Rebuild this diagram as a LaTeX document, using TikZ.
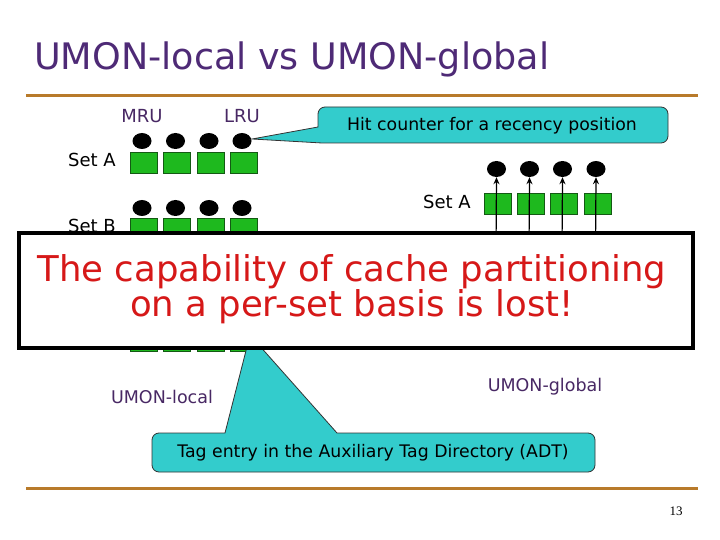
\documentclass[tikz,border=0pt]{standalone}
\usepackage{fontspec}
\setmainfont{DejaVu Sans}
\newfontfamily\serifnum{Liberation Serif}
\usetikzlibrary{arrows.meta,shapes.geometric}
\definecolor{titlepurple}{RGB}{78,42,118}
\definecolor{lblpurple}{RGB}{72,40,100}
\definecolor{rulebrown}{RGB}{184,122,42}
\definecolor{waygreen}{RGB}{30,185,30}
\definecolor{wayedge}{RGB}{20,90,20}
\definecolor{callcyan}{RGB}{51,204,204}
\definecolor{msgred}{RGB}{214,24,24}
\tikzset{
  way/.style={draw=wayedge, line width=0.8pt, fill=waygreen, minimum width=27pt, minimum height=21pt, inner sep=0pt},
  ctr/.style={fill=black, ellipse, inner sep=0pt, minimum width=19pt, minimum height=16pt},
  lbl/.style={font=\fontsize{17.5}{20}\selectfont, text=lblpurple, inner sep=0pt},
  setlbl/.style={font=\fontsize{18}{20}\selectfont, text=black, inner sep=0pt, anchor=base west},
  calltext/.style={font=\fontsize{17.3}{20}\selectfont, inner sep=0pt},
  callout/.style={draw=black!80, line width=0.8pt, fill=callcyan},
  hrule/.style={draw=rulebrown, line width=3pt},
  upar/.style={draw=black, line width=1.2pt, -{Stealth[length=7pt,width=6pt]}},
}
\begin{document}
\begin{tikzpicture}[x=1pt,y=-1pt]
\useasboundingbox[fill=white] (0,0) rectangle (720,540);
% title and rules
\node[anchor=west, text=titlepurple, font=\fontsize{36.5}{40}\selectfont, inner sep=0pt] (title) at (34,59) {UMON-local vs UMON-global};
\draw[hrule] (26,96) -- (698,96);
\draw[hrule] (26,488) -- (698,488);
% left: labels
\node[lbl, font=\fontsize{18}{20}\selectfont] (mru) at (142,116) {MRU};
\node[lbl, font=\fontsize{18}{20}\selectfont] (lru) at (242,116) {LRU};
\node[setlbl] (setA) at (68,167) {Set A};
\node[setlbl] (setB) at (68,233) {Set B};
% left: set A, set B, hidden set
\foreach \i/\x in {1/143.5,2/177,3/210.5,4/243.5}{
  \node[way] (a\i) at (\x,163) {};
  \node[ctr] (ac\i) at (\x-1.5,141) {};
  \node[way] (b\i) at (\x,229) {};
  \node[ctr] (bc\i) at (\x-1.5,208) {};
  \node[way] (c\i) at (\x,341) {};
}
% right: set A
\node[setlbl] (setAr) at (423,208) {Set A};
\foreach \i/\x in {1/498,2/531,3/564,4/597.5}{
  \node[way] (r\i) at (\x,204) {};
  \node[ctr] (rc\i) at (\x-1.5,169) {};
  \coordinate (rs\i) at (\x-2,250);
  \draw[upar] (rs\i) -- (rc\i.south);
}
% callout 1
\coordinate (tip1) at (252,139);
\draw[callout] (tip1) -- (318,127) [rounded corners=7pt] -- (318,107) -- (668,107) -- (668,143) -- (318,143) [sharp corners] -- (322,143) -- cycle;
\node[calltext] (hit) at (492,126) {Hit counter for a recency position};
% callout 2
\coordinate (tip2) at (250,335);
\draw[callout] (tip2) -- (337,433) [rounded corners=7pt] -- (595,433) -- (595,472) -- (152,472) -- (152,433) [sharp corners] -- (225,433) -- cycle;
\node[calltext] (tag) at (373,453) {Tag entry in the Auxiliary Tag Directory (ADT)};
% labels
\node[lbl] (ulocal) at (162,397) {UMON-local};
\node[lbl] (uglobal) at (545,387) {UMON-global};
% big message box
\node[draw=black, line width=3.5pt, fill=white, minimum width=674pt, minimum height=115pt, inner sep=0pt, anchor=north west] (msg) at (17,231) {};
\node[text=msgred, font=\fontsize{35.5}{34}\selectfont, align=center, inner sep=0pt] (msgtxt) at (352,289) {The capability of cache partitioning\\on a per-set basis is lost!};
% page number
\node[font=\serifnum\fontsize{13}{15}\selectfont, inner sep=0pt] (pg) at (676,511) {13};
\end{tikzpicture}
\end{document}
